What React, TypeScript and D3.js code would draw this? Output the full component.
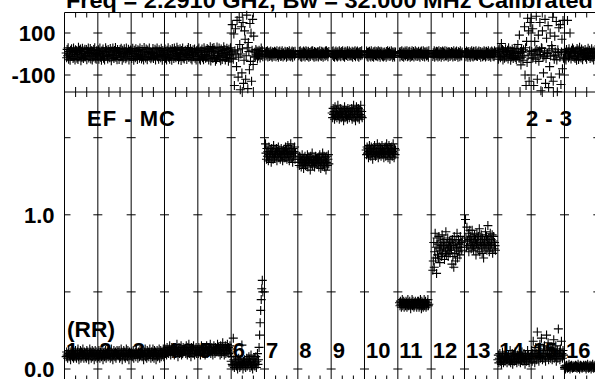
import React from 'react';
import * as d3 from 'd3';

const W = 595;
const H = 379;

// ---- text ----
const titleText = 'Freq = 2.2910 GHz, Bw = 32.000 MHz   Calibrated';
const baselineLabel = 'EF - MC';
const antennaLabel = '2 - 3';
const polLabel = '(RR)';
const scanLabels = ['1','2','3','4','5','6','7','8','9','10','11','12','13','14','15','16'];

// ---- axis ticks ----
const phaseTicks = [-100, 0, 100];
const phaseTickLabels = ['-100', '', '100'];
const ampTicks = [0, 0.5, 1.0, 1.5];
const ampTickLabels = ['0.0', '', '1.0', ''];

// ---- scan time ranges (grid units) ----
const scanStart = [0.05, 1.0, 2.0, 3.0, 4.0, 5.0, 6.03, 7.03, 8.03, 9.05, 10.05, 11.05, 12.03, 13.0, 14.0, 15.0];
const scanEnd   = [0.98, 1.98, 2.98, 3.98, 4.98, 5.95, 6.93, 7.93, 8.93, 9.93, 10.93, 11.93, 12.93, 13.97, 14.97, 15.95];

// ---- amplitudes per scan ----
const amp01 = [0.08,0.11,0.09,0.07,0.10,0.12,0.08,0.09,0.11,0.06,0.10,0.09,0.12,0.08,0.10,0.07,0.11,0.09,0.08,0.12,0.10,0.07,0.09,0.11,0.13,0.08,0.06,0.10,0.09,0.12,0.07,0.11,0.08,0.10,0.13,0.09,0.07,0.11,0.10,0.08,0.10,0.07,0.12,0.09,0.11,0.08,0.06,0.10,0.13,0.09,0.11,0.07,0.10,0.12,0.08,0.09,0.11,0.06,0.10,0.12,0.08,0.11,0.09,0.07];
const amp02 = [0.10,0.08,0.12,0.09,0.07,0.11,0.10,0.08,0.13,0.09,0.06,0.10,0.11,0.08,0.09,0.12,0.07,0.10,0.09,0.11,0.08,0.10,0.12,0.09,0.07,0.11,0.13,0.08,0.10,0.06,0.09,0.12,0.10,0.08,0.11,0.07,0.10,0.12,0.09,0.11,0.09,0.12,0.07,0.10,0.08,0.13,0.11,0.06,0.09,0.10,0.12,0.08,0.11,0.07,0.10,0.13,0.09,0.08,0.12,0.10,0.06,0.11,0.09,0.10];
const amp03 = [0.09,0.11,0.08,0.10,0.12,0.07,0.10,0.09,0.11,0.08,0.12,0.10,0.09,0.07,0.11,0.10,0.08,0.12,0.09,0.10,0.11,0.08,0.10,0.12,0.06,0.09,0.11,0.13,0.08,0.10,0.07,0.12,0.09,0.11,0.08,0.10,0.13,0.09,0.07,0.11,0.11,0.08,0.13,0.10,0.07,0.12,0.09,0.11,0.06,0.10,0.12,0.08,0.11,0.09,0.13,0.07,0.10,0.12,0.08,0.11,0.09,0.10,0.13,0.08];
const amp04 = [0.11,0.13,0.10,0.12,0.09,0.14,0.11,0.12,0.10,0.13,0.15,0.11,0.09,0.12,0.14,0.10,0.13,0.11,0.12,0.09,0.14,0.12,0.10,0.13,0.16,0.11,0.08,0.12,0.14,0.10,0.13,0.11,0.15,0.09,0.12,0.10,0.14,0.11,0.13,0.12,0.13,0.10,0.15,0.12,0.09,0.14,0.11,0.16,0.10,0.13,0.12,0.08,0.14,0.11,0.13,0.10,0.15,0.12,0.09,0.13,0.11,0.14,0.10,0.12];
const amp05 = [0.12,0.10,0.14,0.11,0.13,0.09,0.12,0.15,0.11,0.13,0.10,0.12,0.14,0.11,0.09,0.13,0.12,0.15,0.10,0.12,0.11,0.14,0.12,0.13,0.16,0.10,0.12,0.14,0.11,0.09,0.13,0.15,0.12,0.10,0.14,0.11,0.13,0.12,0.16,0.11,0.14,0.11,0.13,0.09,0.15,0.12,0.10,0.14,0.17,0.11,0.13,0.09,0.12,0.15,0.10,0.13,0.11,0.16,0.12,0.14,0.10,0.13,0.15,0.11];
const amp06 = [0.05,0.08,0.03,0.02,0.20,0.06,0.01,0.04,0.08,0.03,0.02,0.05,0.00,0.03,0.07,0.04,0.01,0.06,0.02,0.04,0.155,0.03,0.00,0.05,0.02,0.06,0.04,0.01,0.03,0.07,0.02,0.05,0.03,0.08,0.06,0.01,0.04,0.09,0.02,0.05,0.00,0.06,0.03,0.07,0.02,0.04,0.08,0.01,0.05,0.10,0.03,0.06,0.14,0.22,0.30,0.38,0.45,0.52,0.575,0.50];
const amp07 = [1.46,1.40,1.36,1.43,1.38,1.41,1.35,1.44,1.39,1.37,1.42,1.40,1.34,1.43,1.38,1.41,1.36,1.45,1.39,1.37,1.42,1.40,1.38,1.43,1.35,1.41,1.39,1.44,1.37,1.40,1.42,1.36,1.39,1.43,1.38,1.41,1.35,1.40,1.42,1.37,1.41,1.37,1.44,1.39,1.42,1.36,1.40,1.45,1.38,1.43,1.35,1.41,1.39,1.46,1.37,1.42,1.40,1.34,1.43,1.38,1.41,1.44,1.36,1.40];
const amp08 = [1.36,1.32,1.38,1.34,1.37,1.31,1.35,1.39,1.33,1.36,1.30,1.37,1.34,1.38,1.32,1.35,1.36,1.33,1.39,1.31,1.35,1.37,1.34,1.36,1.29,1.38,1.33,1.35,1.40,1.32,1.36,1.34,1.37,1.31,1.35,1.38,1.33,1.36,1.34,1.37,1.33,1.37,1.31,1.36,1.39,1.34,1.30,1.37,1.35,1.32,1.40,1.36,1.33,1.38,1.31,1.35,1.37,1.29,1.34,1.38,1.32,1.36,1.39,1.33];
const amp09 = [1.66,1.63,1.69,1.65,1.67,1.62,1.70,1.64,1.66,1.68,1.63,1.65,1.71,1.64,1.67,1.62,1.66,1.69,1.65,1.63,1.67,1.66,1.64,1.68,1.61,1.66,1.70,1.63,1.65,1.68,1.64,1.67,1.62,1.69,1.65,1.66,1.63,1.68,1.65,1.67,1.64,1.69,1.62,1.67,1.65,1.71,1.63,1.66,1.68,1.61,1.65,1.70,1.64,1.67,1.63,1.69,1.66,1.62,1.68,1.65,1.71,1.64,1.67,1.63];
const amp10 = [1.42,1.39,1.44,1.40,1.43,1.37,1.41,1.45,1.39,1.42,1.38,1.44,1.40,1.43,1.36,1.41,1.42,1.39,1.45,1.40,1.38,1.43,1.41,1.39,1.46,1.40,1.37,1.42,1.44,1.39,1.41,1.43,1.38,1.40,1.45,1.42,1.39,1.41,1.37,1.43,1.40,1.44,1.38,1.42,1.46,1.39,1.43,1.37,1.41,1.45,1.40,1.36,1.43,1.39,1.42,1.44,1.38,1.41,1.46,1.40,1.37,1.43,1.39,1.42];
const amp11 = [0.43,0.41,0.44,0.42,0.40,0.43,0.45,0.41,0.42,0.44,0.40,0.43,0.42,0.41,0.44,0.43,0.40,0.42,0.45,0.41,0.43,0.42,0.44,0.41,0.39,0.43,0.42,0.45,0.41,0.44,0.42,0.40,0.43,0.41,0.44,0.42,0.43,0.40,0.42,0.44,0.42,0.44,0.40,0.43,0.41,0.45,0.42,0.39,0.44,0.41,0.43,0.40,0.42,0.45,0.41,0.43,0.44,0.40,0.42,0.41,0.43,0.45,0.41,0.42];
const amp12 = [0.64,0.70,0.82,0.66,0.76,0.88,0.72,0.79,0.62,0.85,0.74,0.81,0.72,0.86,0.78,0.69,0.83,0.77,0.80,0.73,0.87,0.75,0.82,0.79,0.84,0.71,0.80,0.76,0.89,0.74,0.81,0.78,0.85,0.73,0.80,0.77,0.83,0.75,0.79,0.82,0.77,0.68,0.84,0.73,0.80,0.66,0.86,0.75,0.81,0.70,0.83,0.78,0.88,0.72,0.79,0.84,0.76,0.81,0.74,0.86,0.79,0.82,0.77,0.83];
const amp13 = [0.97,0.85,0.79,0.92,0.83,0.80,0.88,0.76,0.84,0.90,0.81,0.86,0.78,0.83,0.90,0.80,0.85,0.77,0.82,0.87,0.79,0.84,0.74,0.81,0.88,0.83,0.78,0.86,0.80,0.91,0.76,0.84,0.82,0.87,0.79,0.75,0.85,0.81,0.72,0.80,0.83,0.78,0.89,0.81,0.86,0.77,0.84,0.93,0.80,0.85,0.76,0.82,0.88,0.79,0.84,0.81,0.87,0.75,0.83,0.86,0.78,0.82,0.80,0.77];
const amp14 = [0.06,0.09,0.04,0.07,0.10,0.05,0.08,0.03,0.07,0.11,0.06,0.04,0.09,0.07,0.05,0.08,0.10,0.06,0.04,0.08,0.07,0.09,0.05,0.06,0.12,0.04,0.08,0.06,0.10,0.03,0.07,0.09,0.05,0.08,0.11,0.06,0.07,0.04,0.09,0.07,0.08,0.05,0.10,0.07,0.04,0.09,0.06,0.11,0.08,0.05,0.07,0.10,0.06,0.03,0.09,0.07,0.05,0.08,0.12,0.06,0.09,0.04,0.07,0.08];
const amp15 = [0.08,0.12,0.05,0.10,0.18,0.07,0.11,0.04,0.09,0.14,0.06,0.10,0.24,0.08,0.12,0.05,0.09,0.16,0.07,0.11,0.20,0.08,0.06,0.10,0.13,0.07,0.15,0.09,0.05,0.12,0.22,0.08,0.10,0.17,0.06,0.11,0.09,0.14,0.07,0.12,0.10,0.06,0.13,0.09,0.19,0.07,0.11,0.08,0.15,0.05,0.10,0.12,0.07,0.26,0.09,0.11,0.06,0.13,0.08,0.18,0.10,0.07,0.12,0.09];
const amp16 = [0.01,0.02,0.00,0.015,0.025,0.01,0.005,0.02,0.01,0.03,0.015,0.00,0.02,0.01,0.025,0.015,0.005,0.02,0.01,0.02,0.015,0.01,0.025,0.01,0.02,0.005,0.015,0.03,0.01,0.02,0.00,0.015,0.025,0.01,0.02,0.005,0.015,0.01,0.025,0.02,0.015,0.01,0.025,0.00,0.02,0.01,0.03,0.015,0.005,0.02,0.01,0.025,0.015,0.00,0.02,0.01,0.03,0.015,0.005,0.02,0.01,0.025,0.01,0.02];

// ---- phases per scan (degrees) ----
const phs01 = [5,-18,22,-8,30,-25,12,0,-30,18,-12,25,-5,10,-22,28,-15,8,-28,20,-2,15,-20,6,-26,32,-10,18,-4,24,-32,11,-16,27,2,-21,14,-9,23,-13,-7,21,-27,13,-1,29,-19,7,-11,26,-24,3,17,-29,9,-14,22,-6,30,-20,1,-25,16,-3];
const phs02 = [-10,20,-25,8,28,-15,3,-30,15,-6,24,-20,12,-28,6,30,-12,18,-4,-24,22,-8,10,-18,26,-2,-32,14,-11,29,5,-22,17,-7,31,-16,9,-27,21,-1,12,-26,4,21,-13,27,-9,-30,18,2,-19,25,-5,11,-23,28,-15,7,-1,23,-28,13,-10,19];
const phs03 = [14,-22,6,27,-12,-30,18,2,-18,25,-8,12,-26,20,-3,16,-20,29,-10,4,-24,22,-14,9,-29,31,-5,13,-19,24,-1,-27,19,-11,7,28,-15,10,-23,3,-16,8,26,-21,1,-9,23,-28,15,-4,29,-13,6,-25,20,-7,11,-18,27,-2,-30,17,-12,5];
const phs04 = [-6,24,-20,10,-28,18,-2,30,-16,6,-25,20,-10,14,-30,26,-4,12,-22,28,-8,16,-18,3,32,-12,21,-27,7,-14,25,-3,-31,17,-9,29,-19,11,-24,1,18,-11,4,-26,22,-7,31,-17,9,-2,26,-23,13,-29,5,20,-13,-5,24,-20,8,-28,15,-10];
const phs05 = [20,-12,28,-24,6,-30,16,-6,24,-18,10,-27,30,-2,18,-20,8,-14,26,-10,22,-28,12,-5,35,-33,15,-8,27,-22,4,31,-16,19,-35,9,-25,33,-11,13,-7,29,-19,11,-32,24,2,-26,17,-13,34,-4,21,-29,7,-17,27,-9,14,-34,23,-2,-21,30];
const phs06 = [10,-20,140,5,-25,95,-150,15,120,-5,-60,160,20,-110,-15,175,45,-170,0,130,-90,25,150,-140,-30,110,70,-120,-8,185,30,-165,55,12,-75,145,-35,100,-130,18,165,-50,85,-10,8,-15,22,-4,14,-24,3,-10,18,-2,-19,11,28,-6,16,-13];
const phs07 = [5,-10,12,-3,15,-14,8,0,-12,10,-6,14,-9,3,-15,11,-4,7,-11,13,-1,9,-13,4,16,-7,2,-16,11,-5,14,-2,-12,8,-9,15,1,-14,6,-4,-8,13,-1,10,-15,4,12,-11,7,-3,16,-9,2,-13,9,-6,14,-16,5,11,-2,-10,13,0];
const phs08 = [-8,12,-2,16,-13,6,-16,10,1,-11,14,-5,9,-14,3,15,-7,11,-10,2,13,-15,7,-4,-12,9,-1,14,-6,16,-10,4,-15,12,-3,8,-13,5,-9,11,6,-14,11,-3,15,-8,2,-12,13,-6,9,-16,4,10,-1,-11,14,-7,16,-4,8,-13,1,12];
const phs09 = [12,-6,15,-12,2,-16,9,-3,14,-9,6,-14,11,0,-10,16,-5,8,-13,4,12,-8,15,-2,-11,7,-15,13,-4,10,-7,3,16,-12,5,-1,14,-10,8,-6,-9,4,13,-15,7,-2,11,-7,16,-13,2,9,-4,14,-11,6,-16,10,-3,12,-8,0,15,-5];
const phs10 = [-3,14,-11,7,-16,10,-1,13,-9,5,-14,16,-6,2,-12,9,-15,11,-4,14,-8,3,-10,12,6,-13,15,-2,-7,11,-16,4,13,-5,9,-11,1,-14,8,-9,10,-6,2,-15,12,-4,16,-10,7,-1,13,-12,4,-8,15,-3,10,-16,6,-7,11,-14,2,9];
const phs11 = [9,-14,3,12,-7,16,-12,1,10,-16,6,-5,14,-10,8,-2,15,-13,4,-9,11,-6,13,-15,-3,7,-11,16,-8,2,12,-14,5,-4,15,-10,0,9,-12,6,-5,13,-9,4,-16,10,-2,14,-7,1,-12,15,-4,8,-14,11,-1,6,-10,13,-6,3,-15,16];
const phs12 = [-12,6,-4,15,-15,9,2,-9,13,-6,11,-14,0,16,-11,5,-3,12,-16,8,-7,14,-2,10,-13,4,15,-8,1,-10,13,-5,7,-15,11,-1,9,-12,3,-6,12,-3,8,-14,2,16,-9,5,-12,10,-4,14,-7,1,-16,11,-2,7,-13,15,-6,4,-10,9];
const phs13 = [7,-13,14,-5,10,-16,4,12,-8,1,-15,9,-3,15,-11,6,-14,13,-1,-10,11,-6,16,-9,3,-12,8,-4,14,-7,0,12,-15,5,-2,10,-13,6,-8,15,-6,11,-14,3,13,-9,7,-2,15,-12,4,-7,10,-16,1,14,-4,9,-11,5,-13,16,-1,8];
const phs14 = [10,-25,20,-8,28,-18,5,50,-12,22,-28,15,-5,-20,12,25,-15,8,-2,18,-24,30,-10,-4,16,-30,9,-14,24,2,-21,13,-7,27,-17,6,-26,19,-11,45,3,-19,90,-20,12,-52,25,-15,8,-30,20,-6,130,-100,30,-150,60,-40,170,-8,110,-130,15,150];
const phs15 = [170,12,-20,120,-18,-150,5,60,15,-25,180,22,-120,-8,90,-35,15,150,-3,-175,30,27,110,-14,-90,-10,9,165,-140,-21,75,5,3,135,-160,18,-60,100,-10,-110,40,25,175,-130,-6,-25,85,11,-5,155,-28,-180,20,7,125,-95,-15,140,-145,10,70,-70,160,-20];
const phs16 = [15,-20,8,-28,22,-5,160,12,-18,25,-10,100,4,-24,18,-12,28,-6,20,-15,10,-22,6,14,-30,26,-8,19,-26,2,32,-14,11,-19,24,-3,-27,16,-11,7,-4,21,-16,9,-25,13,-7,27,-12,3,18,-22,6,-9,25,-18,1,14,-29,10,-5,22,-13,8];

const ampByScan = [amp01,amp02,amp03,amp04,amp05,amp06,amp07,amp08,amp09,amp10,amp11,amp12,amp13,amp14,amp15,amp16];
const phaseByScan = [phs01,phs02,phs03,phs04,phs05,phs06,phs07,phs08,phs09,phs10,phs11,phs12,phs13,phs14,phs15,phs16];

const FONT = '"Liberation Sans", Arial, Helvetica, sans-serif';

export default function App() {
  const left = 64.5;
  const step = 33.333;
  const x = d3.scaleLinear().domain([0, 16]).range([left, left + 16 * step]);
  const yP = d3.scaleLinear().domain([-100, 100]).range([75, 33]);
  const yA = d3.scaleLinear().domain([0, 1.5]).range([369, 137.7]);

  const topY = 12.5;
  const midY = 92;
  const botY = 381.5;
  const rightX = x(16.2);

  const majors = d3.range(0, 17);
  const minors = d3.range(0, 16 * 3 + 1).filter((i) => i % 3 !== 0).map((i) => i / 3);

  const toPoints = (series: number[][]) => {
    const pts: { t: number; v: number }[] = [];
    series.forEach((vals, s) => {
      const n = vals.length;
      vals.forEach((v, i) => pts.push({ t: scanStart[s] + ((scanEnd[s] - scanStart[s]) * i) / (n - 1), v }));
    });
    return pts;
  };
  const ampPts = toPoints(ampByScan);
  const phsPts = toPoints(phaseByScan);

  const cross = 'M-4.5,0H4.5M0,-4.5V4.5';
  const tickHalf = 4.5;
  const txt = { fontFamily: FONT, fontWeight: 'bold' as const, fontSize: 22, fill: '#000' };

  return (
    <svg width={W} height={H} style={{ position: 'absolute', left: 0, top: 0, background: '#fff' }}>
      <rect x={0} y={0} width={W} height={H} fill="#fff" />
      <text x={66} y={7.5} {...txt} textLength={527} lengthAdjust="spacingAndGlyphs">
        {titleText}
      </text>

      {majors.map((k) => (
        <line key={'v' + k} x1={x(k)} x2={x(k)} y1={topY} y2={botY} stroke="#000" strokeWidth={1} />
      ))}
      <line x1={left} x2={rightX} y1={topY} y2={topY} stroke="#000" />
      <line x1={left} x2={rightX} y1={midY} y2={midY} stroke="#000" />
      <line x1={left} x2={rightX} y1={botY} y2={botY} stroke="#000" />

      {minors.map((m) => (
        <g key={'m' + m} stroke="#000" strokeWidth={1}>
          <line x1={x(m)} x2={x(m)} y1={topY} y2={topY + 5} />
          <line x1={x(m)} x2={x(m)} y1={midY - 5} y2={midY + 5} />
          <line x1={x(m)} x2={x(m)} y1={botY - 6} y2={botY} />
        </g>
      ))}

      {majors.map((k) => (
        <g key={'t' + k} stroke="#000" strokeWidth={1}>
          {phaseTicks.map((p) => (
            <line key={'p' + p} x1={k === 0 ? x(k) : x(k) - tickHalf} x2={x(k) + tickHalf + (k === 0 ? 1.5 : 0)} y1={yP(p)} y2={yP(p)} />
          ))}
          {ampTicks.map((a) => (
            <line key={'a' + a} x1={k === 0 ? x(k) : x(k) - tickHalf} x2={x(k) + tickHalf + (k === 0 ? 1.5 : 0)} y1={yA(a)} y2={yA(a)} />
          ))}
        </g>
      ))}

      {phaseTicks.map((p, i) =>
        phaseTickLabels[i] ? (
          <text key={'pl' + p} x={55.5} y={yP(p) + 8} textAnchor="end" {...txt}>
            {phaseTickLabels[i]}
          </text>
        ) : null
      )}
      {ampTicks.map((a, i) =>
        ampTickLabels[i] ? (
          <text key={'al' + a} x={54.5} y={yA(a) + 8} textAnchor="end" {...txt}>
            {ampTickLabels[i]}
          </text>
        ) : null
      )}

      <text x={87} y={126} {...txt} textLength={88} lengthAdjust="spacing">{baselineLabel}</text>
      <text x={526} y={126} {...txt} textLength={46} lengthAdjust="spacing">{antennaLabel}</text>
      <text x={67} y={337} {...txt} textLength={48} lengthAdjust="spacingAndGlyphs">{polLabel}</text>

      {scanLabels.map((lab, i) => (
        <text key={'s' + i} x={x(i) + 1.5} y={358} {...txt}>
          {lab}
        </text>
      ))}

      <g stroke="#000" strokeWidth={1.1} fill="none">
        {phsPts.map((d, i) => (
          <path key={'pp' + i} d={cross} transform={`translate(${x(d.t)},${yP(d.v)})`} />
        ))}
      </g>
      <g stroke="#000" strokeWidth={1.1} fill="none">
        {ampPts.map((d, i) => (
          <path key={'ap' + i} d={cross} transform={`translate(${x(d.t)},${yA(d.v)})`} />
        ))}
      </g>
    </svg>
  );
}
